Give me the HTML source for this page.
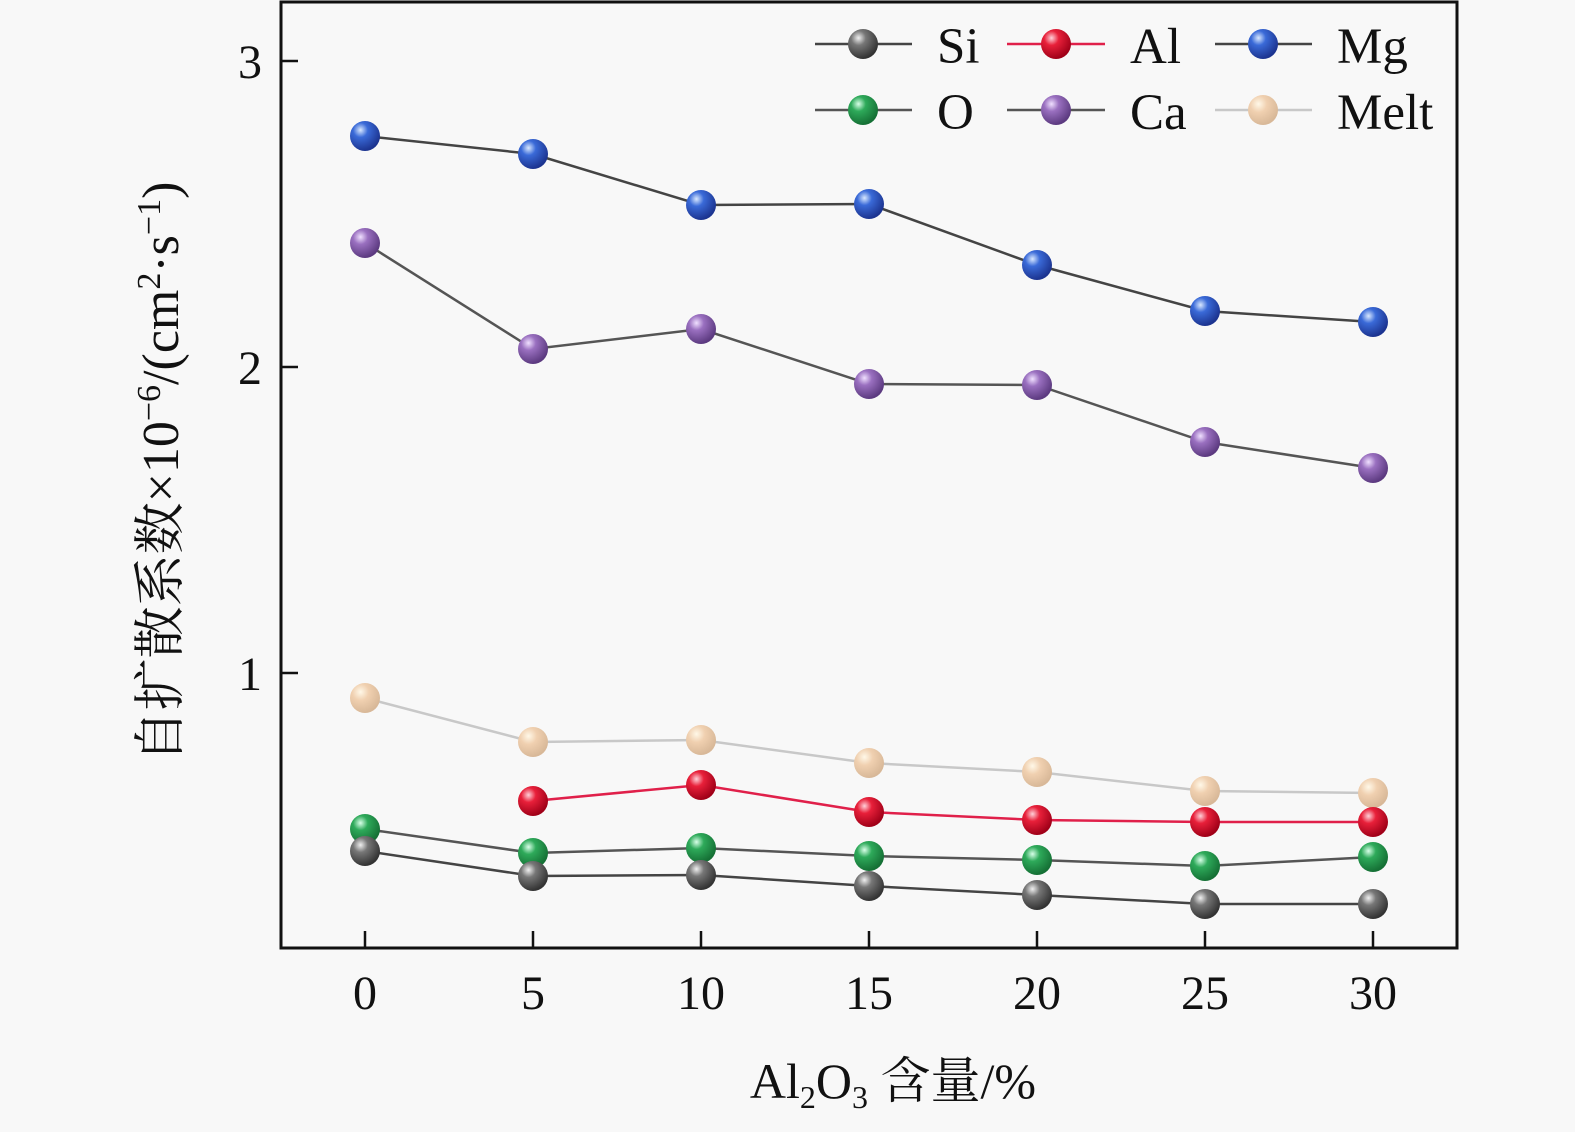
<!DOCTYPE html>
<html><head><meta charset="utf-8"><style>
html,body{margin:0;padding:0;background:#f8f8f8;}
svg{display:block;}
text{font-family:"Liberation Serif","Noto Serif CJK SC",serif;fill:#111;}
</style></head><body>
<svg width="1575" height="1132" viewBox="0 0 1575 1132" xmlns="http://www.w3.org/2000/svg">
<defs>
<radialGradient id="gSi" cx="35%" cy="30%" r="70%"><stop offset="0" stop-color="#f0f0f0"/><stop offset="0.35" stop-color="#777"/><stop offset="1" stop-color="#333"/></radialGradient>
<radialGradient id="gAl" cx="35%" cy="30%" r="70%"><stop offset="0" stop-color="#ffd0d8"/><stop offset="0.35" stop-color="#e8203a"/><stop offset="1" stop-color="#a00018"/></radialGradient>
<radialGradient id="gMg" cx="35%" cy="30%" r="70%"><stop offset="0" stop-color="#d8e8ff"/><stop offset="0.35" stop-color="#3a6ad8"/><stop offset="1" stop-color="#1c3490"/></radialGradient>
<radialGradient id="gO" cx="35%" cy="30%" r="70%"><stop offset="0" stop-color="#d8ffe8"/><stop offset="0.35" stop-color="#2eaa5a"/><stop offset="1" stop-color="#157035"/></radialGradient>
<radialGradient id="gCa" cx="35%" cy="30%" r="70%"><stop offset="0" stop-color="#f0e0ff"/><stop offset="0.35" stop-color="#9a70c0"/><stop offset="1" stop-color="#5c3a80"/></radialGradient>
<radialGradient id="gMe" cx="35%" cy="30%" r="70%"><stop offset="0" stop-color="#fff8e8"/><stop offset="0.4" stop-color="#f0d0b0"/><stop offset="1" stop-color="#d8b898"/></radialGradient>
</defs>
<rect x="281" y="2" width="1176" height="946" fill="none" stroke="#111" stroke-width="3"/>
<g stroke="#111" stroke-width="2.5">
<line x1="281" y1="61" x2="298" y2="61"/><line x1="281" y1="367" x2="298" y2="367"/><line x1="281" y1="673" x2="298" y2="673"/>
<line x1="365" y1="948" x2="365" y2="931"/><line x1="533" y1="948" x2="533" y2="931"/><line x1="701" y1="948" x2="701" y2="931"/><line x1="869" y1="948" x2="869" y2="931"/><line x1="1037" y1="948" x2="1037" y2="931"/><line x1="1205" y1="948" x2="1205" y2="931"/><line x1="1373" y1="948" x2="1373" y2="931"/>
</g>
<g font-size="48" text-anchor="end">
<text x="262" y="78">3</text><text x="262" y="384">2</text><text x="262" y="690">1</text>
</g>
<g font-size="48" text-anchor="middle">
<text x="365" y="1009">0</text><text x="533" y="1009">5</text><text x="701" y="1009">10</text><text x="869" y="1009">15</text><text x="1037" y="1009">20</text><text x="1205" y="1009">25</text><text x="1373" y="1009">30</text>
</g>
<text x="893" y="1098" font-size="50" text-anchor="middle">Al<tspan font-size="32" dy="10">2</tspan><tspan dy="-10">O</tspan><tspan font-size="32" dy="10">3</tspan><tspan dy="-10"> 含量/%</tspan></text>
<text transform="translate(178,472) rotate(-90)" font-size="52" text-anchor="middle">自扩散系数×10<tspan font-size="34" dy="-18">−6</tspan><tspan dy="18">/(cm</tspan><tspan font-size="34" dy="-18">2</tspan><tspan dy="18">·s</tspan><tspan font-size="34" dy="-18">−1</tspan><tspan dy="18">)</tspan></text>
<g fill="none" stroke-width="2.5">
<polyline stroke="#c8c8c8" points="365,698 533,742 701,740 869,763 1037,772 1205,791 1373,793"/>
<polyline stroke="#e0204a" points="533,801 701,785 869,812 1037,820 1205,822 1373,822"/>
<polyline stroke="#555" points="365,829 533,853 701,848 869,856 1037,860 1205,866 1373,857"/>
<polyline stroke="#444" points="365,851 533,876 701,875 869,886 1037,895 1205,904 1373,904"/>
<polyline stroke="#555" points="365,243 533,349 701,329 869,384 1037,385 1205,442 1373,468"/>
<polyline stroke="#444" points="365,136 533,154 701,205 869,204 1037,265 1205,311 1373,322"/>
</g>
<g fill="url(#gMe)"><circle cx="365" cy="698" r="15"/><circle cx="533" cy="742" r="15"/><circle cx="701" cy="740" r="15"/><circle cx="869" cy="763" r="15"/><circle cx="1037" cy="772" r="15"/><circle cx="1205" cy="791" r="15"/><circle cx="1373" cy="793" r="15"/></g>
<g fill="url(#gAl)"><circle cx="533" cy="801" r="15"/><circle cx="701" cy="785" r="15"/><circle cx="869" cy="812" r="15"/><circle cx="1037" cy="820" r="15"/><circle cx="1205" cy="822" r="15"/><circle cx="1373" cy="822" r="15"/></g>
<g fill="url(#gO)"><circle cx="365" cy="829" r="15"/><circle cx="533" cy="853" r="15"/><circle cx="701" cy="848" r="15"/><circle cx="869" cy="856" r="15"/><circle cx="1037" cy="860" r="15"/><circle cx="1205" cy="866" r="15"/><circle cx="1373" cy="857" r="15"/></g>
<g fill="url(#gSi)"><circle cx="365" cy="851" r="15"/><circle cx="533" cy="876" r="15"/><circle cx="701" cy="875" r="15"/><circle cx="869" cy="886" r="15"/><circle cx="1037" cy="895" r="15"/><circle cx="1205" cy="904" r="15"/><circle cx="1373" cy="904" r="15"/></g>
<g fill="url(#gCa)"><circle cx="365" cy="243" r="15"/><circle cx="533" cy="349" r="15"/><circle cx="701" cy="329" r="15"/><circle cx="869" cy="384" r="15"/><circle cx="1037" cy="385" r="15"/><circle cx="1205" cy="442" r="15"/><circle cx="1373" cy="468" r="15"/></g>
<g fill="url(#gMg)"><circle cx="365" cy="136" r="15"/><circle cx="533" cy="154" r="15"/><circle cx="701" cy="205" r="15"/><circle cx="869" cy="204" r="15"/><circle cx="1037" cy="265" r="15"/><circle cx="1205" cy="311" r="15"/><circle cx="1373" cy="322" r="15"/></g>
<g stroke-width="2.5">
<line x1="815" y1="44" x2="912" y2="44" stroke="#444"/>
<line x1="1007" y1="44" x2="1105" y2="44" stroke="#e0204a"/><line x1="1215" y1="44" x2="1312" y2="44" stroke="#444"/>
<line x1="815" y1="110" x2="912" y2="110" stroke="#555"/><line x1="1007" y1="110" x2="1105" y2="110" stroke="#555"/><line x1="1215" y1="110" x2="1312" y2="110" stroke="#c8c8c8"/>
</g>
<circle cx="863" cy="44" r="15" fill="url(#gSi)"/><circle cx="1056" cy="44" r="15" fill="url(#gAl)"/><circle cx="1263" cy="44" r="15" fill="url(#gMg)"/>
<circle cx="863" cy="110" r="15" fill="url(#gO)"/><circle cx="1056" cy="110" r="15" fill="url(#gCa)"/><circle cx="1263" cy="110" r="15" fill="url(#gMe)"/>
<g font-size="51">
<text x="937" y="63">Si</text><text x="1130" y="63">Al</text><text x="1337" y="63">Mg</text>
<text x="937" y="129">O</text><text x="1130" y="129">Ca</text><text x="1337" y="129">Melt</text>
</g>
</svg>
</body></html>
